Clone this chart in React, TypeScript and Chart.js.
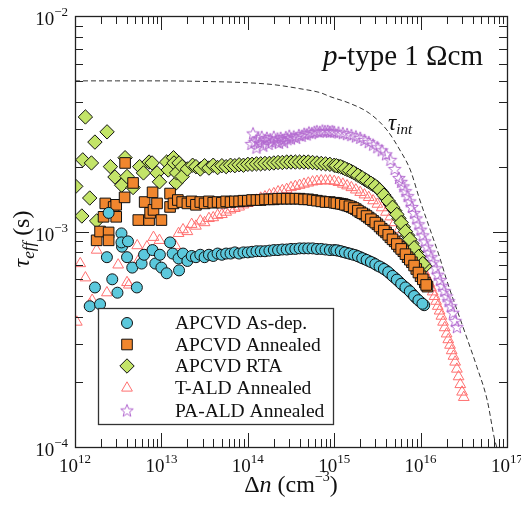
import React, { useEffect, useRef } from 'react';
import { Chart, registerables } from 'chart.js';
import { drawPoint } from 'chart.js/helpers';

Chart.register(...registerables);

// ---------- axis ticks ----------
const xTickValues = [1e12, 1e13, 1e14, 1e15, 1e16, 1e17];
const xTickExponents = ['12', '13', '14', '15', '16', '17'];
const yTickValues = [1e-4, 1e-3, 1e-2];
const yTickExponents = ['−4', '−3', '−2'];

const seriesNames = ['APCVD As-dep.', 'APCVD Annealed', 'APCVD RTA', 'T-ALD Annealed', 'PA-ALD Annealed'];

// ---------- data: [Δn (cm^-3), τ_eff (s)] ----------
const asDep: [number, number][] = [
  [1.48e12, 4.5e-4], [1.7e12, 5.5e-4], [1.95e12, 4.6e-4], [2.34e12, 7.6e-4], [2.45e12, 1.22e-3],
  [2.7e12, 6.0e-4], [3.1e12, 5.2e-4], [3.45e12, 9.8e-4], [3.5e12, 8.5e-4], [3.45e12, 8.9e-4],
  [4.0e12, 7.6e-4], [4.1e12, 9.0e-4], [4.6e12, 6.8e-4], [5.2e12, 5.5e-4], [5.9e12, 7.1e-4],
  [6.3e12, 7.8e-4], [7.9e12, 8.2e-4], [8.5e12, 7.1e-4], [9.6e12, 7.8e-4], [1.0e13, 6.8e-4],
  [1.15e13, 6.4e-4], [1.26e13, 8.9e-4], [1.35e13, 7.9e-4], [1.6e13, 6.6e-4],
  [1.58e13, 7.5e-4], [1.78e13, 7.9e-4], [2.0e13, 7.3e-4], [2.24e13, 7.7e-4], [2.51e13, 7.6e-4],
  [2.82e13, 7.8e-4], [3.16e13, 7.6e-4], [3.55e13, 7.8e-4], [3.98e13, 7.7e-4], [4.47e13, 7.9e-4],
  [5.01e13, 7.8e-4], [5.62e13, 7.9e-4], [6.31e13, 7.9e-4], [7.08e13, 8.0e-4], [7.94e13, 7.9e-4],
  [8.91e13, 8.0e-4], [1.0e14, 8.0e-4], [1.12e14, 8.05e-4], [1.26e14, 8.1e-4], [1.41e14, 8.1e-4],
  [1.58e14, 8.1e-4], [1.78e14, 8.15e-4], [2.0e14, 8.2e-4], [2.24e14, 8.2e-4], [2.51e14, 8.25e-4],
  [2.82e14, 8.25e-4], [3.16e14, 8.3e-4], [3.55e14, 8.3e-4], [3.98e14, 8.35e-4], [4.47e14, 8.35e-4],
  [5.01e14, 8.35e-4], [5.62e14, 8.35e-4], [6.31e14, 8.3e-4], [7.08e14, 8.3e-4], [7.94e14, 8.25e-4],
  [8.91e14, 8.2e-4], [1.0e15, 8.2e-4], [1.12e15, 8.15e-4], [1.26e15, 8.05e-4], [1.41e15, 7.95e-4],
  [1.58e15, 7.85e-4], [1.78e15, 7.75e-4], [2.0e15, 7.6e-4], [2.24e15, 7.45e-4], [2.51e15, 7.3e-4],
  [2.82e15, 7.15e-4], [3.16e15, 6.95e-4], [3.55e15, 6.8e-4], [3.98e15, 6.6e-4], [4.47e15, 6.35e-4],
  [5.01e15, 6.1e-4], [5.62e15, 5.85e-4], [6.31e15, 5.6e-4], [7.08e15, 5.4e-4], [7.94e15, 5.15e-4],
  [8.91e15, 4.9e-4], [1.0e16, 4.7e-4], [1.1e16, 4.55e-4],
  [1.06e15, 8.18e-4], [1.19e15, 8.1e-4], [1.33e15, 8.0e-4], [1.5e15, 7.9e-4], [1.68e15, 7.8e-4],
  [1.88e15, 7.68e-4], [2.11e15, 7.52e-4], [2.37e15, 7.38e-4], [2.66e15, 7.22e-4], [2.99e15, 7.05e-4],
  [3.35e15, 6.88e-4], [3.76e15, 6.7e-4], [4.22e15, 6.48e-4], [4.73e15, 6.22e-4], [5.31e15, 5.98e-4],
  [5.96e15, 5.72e-4], [6.68e15, 5.5e-4], [7.5e15, 5.28e-4], [8.41e15, 5.02e-4], [9.44e15, 4.8e-4],
  [1.05e16, 4.62e-4],
];

const annealed: [number, number][] = [
  [1.78e12, 9.1e-4], [1.95e12, 1.0e-3], [2.14e12, 1.17e-3], [2.24e12, 1.35e-3], [2.45e12, 9.9e-4],
  [2.45e12, 9.1e-4], [2.8e12, 1.3e-3], [3.0e12, 1.33e-3], [3.0e12, 1.17e-3], [3.75e12, 1.44e-3],
  [3.8e12, 2.08e-3], [4.7e12, 1.68e-3], [5.4e12, 1.13e-3], [6.4e12, 1.37e-3], [7.2e12, 1.13e-3],
  [7.4e12, 1.22e-3], [8.1e12, 1.26e-3], [7.9e12, 1.52e-3], [8.9e12, 1.35e-3], [1.0e13, 1.13e-3],
  [1.26e13, 1.5e-3], [1.26e13, 1.3e-3], [1.38e13, 1.35e-3], [1.55e13, 1.4e-3], [1.74e13, 1.37e-3],
  [2.0e13, 1.35e-3], [2.24e13, 1.38e-3], [2.51e13, 1.33e-3], [2.82e13, 1.37e-3], [3.16e13, 1.35e-3],
  [3.55e13, 1.38e-3], [3.98e13, 1.36e-3], [4.47e13, 1.37e-3], [5.01e13, 1.36e-3], [5.62e13, 1.38e-3],
  [6.31e13, 1.37e-3], [7.08e13, 1.38e-3], [7.94e13, 1.38e-3], [8.91e13, 1.39e-3], [1.0e14, 1.39e-3],
  [1.12e14, 1.4e-3], [1.26e14, 1.4e-3], [1.41e14, 1.4e-3], [1.58e14, 1.41e-3], [1.78e14, 1.41e-3],
  [2.0e14, 1.41e-3], [2.24e14, 1.42e-3], [2.51e14, 1.42e-3], [2.82e14, 1.42e-3], [3.16e14, 1.42e-3],
  [3.55e14, 1.42e-3], [3.98e14, 1.42e-3], [4.47e14, 1.41e-3], [5.01e14, 1.41e-3], [5.62e14, 1.4e-3],
  [6.31e14, 1.39e-3], [7.08e14, 1.38e-3], [7.94e14, 1.37e-3], [8.91e14, 1.37e-3], [1.0e15, 1.36e-3],
  [1.12e15, 1.35e-3], [1.26e15, 1.34e-3], [1.41e15, 1.32e-3], [1.58e15, 1.3e-3], [1.78e15, 1.27e-3],
  [2.0e15, 1.23e-3], [2.24e15, 1.2e-3], [2.51e15, 1.16e-3], [2.82e15, 1.12e-3], [3.16e15, 1.08e-3],
  [3.55e15, 1.03e-3], [3.98e15, 9.9e-4], [4.47e15, 9.4e-4], [5.01e15, 9.0e-4], [5.62e15, 8.5e-4],
  [6.31e15, 8.1e-4], [7.08e15, 7.6e-4], [7.94e15, 7.2e-4], [8.91e15, 6.7e-4], [1.0e16, 6.2e-4],
  [1.12e16, 5.8e-4], [1.2e16, 5.55e-4],
  [1.06e15, 1.355e-3], [1.19e15, 1.345e-3], [1.33e15, 1.33e-3], [1.5e15, 1.31e-3], [1.68e15, 1.285e-3],
  [1.88e15, 1.25e-3], [2.11e15, 1.215e-3], [2.37e15, 1.18e-3], [2.66e15, 1.14e-3], [2.99e15, 1.1e-3],
  [3.35e15, 1.055e-3], [3.76e15, 1.01e-3], [4.22e15, 9.65e-4], [4.73e15, 9.2e-4], [5.31e15, 8.75e-4],
  [5.96e15, 8.3e-4], [6.68e15, 7.85e-4], [7.5e15, 7.4e-4], [8.41e15, 6.95e-4], [9.44e15, 6.45e-4],
  [1.06e16, 6.0e-4], [1.16e16, 5.65e-4],
];

const rta: [number, number][] = [
  [1.02e12, 1.62e-3], [1.2e12, 1.18e-3], [1.23e12, 2.15e-3], [1.32e12, 3.4e-3], [1.48e12, 1.43e-3],
  [1.55e12, 2.08e-3], [1.7e12, 2.6e-3], [1.78e12, 1.12e-3], [2.35e12, 2.9e-3], [2.57e12, 2.0e-3],
  [2.9e12, 1.79e-3], [3.47e12, 1.64e-3], [3.8e12, 2.2e-3], [4.0e12, 1.8e-3], [4.7e12, 1.6e-3],
  [5.6e12, 2.0e-3], [6.2e12, 1.87e-3], [7.2e12, 2.1e-3], [7.8e12, 2.08e-3], [8.9e12, 1.87e-3],
  [9.5e12, 1.7e-3], [1.15e13, 2.1e-3], [1.2e13, 1.93e-3], [1.38e13, 2.2e-3], [1.4e13, 2.08e-3],
  [1.48e13, 1.68e-3], [1.5e13, 1.87e-3], [1.6e13, 2.08e-3], [1.74e13, 2.0e-3], [1.74e13, 1.8e-3],
  [2.0e13, 1.95e-3], [2.3e13, 2.03e-3],
  [2.51e13, 2.0e-3], [2.82e13, 1.95e-3], [3.16e13, 2.02e-3], [3.55e13, 1.97e-3], [3.98e13, 2.03e-3],
  [4.47e13, 1.98e-3], [5.01e13, 2.02e-3], [5.62e13, 2.0e-3], [6.31e13, 2.03e-3], [7.08e13, 2.02e-3],
  [7.94e13, 2.04e-3], [8.91e13, 2.03e-3], [1.0e14, 2.05e-3], [1.12e14, 2.05e-3], [1.26e14, 2.06e-3],
  [1.41e14, 2.06e-3], [1.58e14, 2.07e-3], [1.78e14, 2.07e-3], [2.0e14, 2.08e-3], [2.24e14, 2.09e-3],
  [2.51e14, 2.09e-3], [2.82e14, 2.1e-3], [3.16e14, 2.1e-3], [3.55e14, 2.1e-3], [3.98e14, 2.1e-3],
  [4.47e14, 2.1e-3], [5.01e14, 2.1e-3], [5.62e14, 2.09e-3], [6.31e14, 2.08e-3], [7.08e14, 2.07e-3],
  [7.94e14, 2.06e-3], [8.91e14, 2.05e-3], [1.0e15, 2.03e-3], [1.12e15, 2.01e-3], [1.26e15, 1.98e-3],
  [1.41e15, 1.94e-3], [1.58e15, 1.9e-3], [1.78e15, 1.85e-3], [2.0e15, 1.8e-3], [2.24e15, 1.75e-3],
  [2.51e15, 1.7e-3], [2.82e15, 1.65e-3], [3.16e15, 1.6e-3], [3.55e15, 1.52e-3], [3.98e15, 1.43e-3],
  [4.47e15, 1.34e-3], [5.01e15, 1.25e-3], [5.62e15, 1.15e-3], [6.31e15, 1.05e-3], [7.08e15, 9.6e-4],
  [7.94e15, 8.8e-4], [8.91e15, 8.0e-4], [1.0e16, 7.3e-4], [1.12e16, 6.9e-4],
  [1.06e15, 2.02e-3], [1.19e15, 2.0e-3], [1.33e15, 1.96e-3], [1.5e15, 1.92e-3], [1.68e15, 1.875e-3],
  [1.88e15, 1.825e-3], [2.11e15, 1.775e-3], [2.37e15, 1.725e-3], [2.66e15, 1.675e-3], [2.99e15, 1.625e-3],
  [3.35e15, 1.56e-3], [3.76e15, 1.475e-3], [4.22e15, 1.385e-3], [4.73e15, 1.295e-3], [5.31e15, 1.2e-3],
  [5.96e15, 1.1e-3], [6.68e15, 1.0e-3], [7.5e15, 9.2e-4], [8.41e15, 8.4e-4], [9.44e15, 7.65e-4],
  [1.06e16, 7.1e-4],
];

const tald: [number, number][] = [
  [1.05e12, 3.8e-4], [1.15e12, 7.1e-4], [1.32e12, 6.1e-4], [1.48e12, 4.6e-4], [1.58e12, 4.8e-4],
  [1.78e12, 8.2e-4], [2.34e12, 5.2e-4], [3.16e12, 7.0e-4], [4.0e12, 5.8e-4], [4.2e12, 5.65e-4],
  [5.25e12, 8.6e-4], [5.5e12, 7.4e-4], [6.8e12, 8.5e-4], [8.1e12, 9.4e-4], [9.5e12, 9.1e-4],
  [1.45e13, 8.6e-4], [1.58e13, 9.8e-4],
  [1.78e13, 1.02e-3], [2.0e13, 1.0e-3], [2.24e13, 1.08e-3], [2.51e13, 1.06e-3], [2.82e13, 1.12e-3],
  [3.16e13, 1.1e-3], [3.55e13, 1.15e-3], [3.98e13, 1.16e-3], [4.47e13, 1.19e-3], [5.01e13, 1.2e-3],
  [5.62e13, 1.23e-3], [6.31e13, 1.26e-3], [7.08e13, 1.28e-3], [7.94e13, 1.3e-3], [8.91e13, 1.33e-3],
  [1.0e14, 1.35e-3], [1.12e14, 1.38e-3], [1.26e14, 1.4e-3], [1.41e14, 1.43e-3], [1.58e14, 1.45e-3],
  [1.78e14, 1.48e-3], [2.0e14, 1.5e-3], [2.24e14, 1.53e-3], [2.51e14, 1.55e-3], [2.82e14, 1.57e-3],
  [3.16e14, 1.6e-3], [3.55e14, 1.62e-3], [3.98e14, 1.64e-3], [4.47e14, 1.66e-3], [5.01e14, 1.68e-3],
  [5.62e14, 1.7e-3], [6.31e14, 1.71e-3], [7.08e14, 1.72e-3], [7.94e14, 1.72e-3], [8.91e14, 1.72e-3],
  [1.0e15, 1.71e-3], [1.12e15, 1.69e-3], [1.26e15, 1.66e-3], [1.41e15, 1.63e-3], [1.58e15, 1.6e-3],
  [1.78e15, 1.56e-3], [2.0e15, 1.52e-3], [2.24e15, 1.48e-3], [2.51e15, 1.44e-3], [2.82e15, 1.39e-3],
  [3.16e15, 1.34e-3], [3.55e15, 1.29e-3], [3.98e15, 1.23e-3], [4.47e15, 1.17e-3], [5.01e15, 1.1e-3],
  [5.62e15, 1.02e-3], [6.31e15, 9.4e-4], [7.08e15, 8.9e-4], [7.94e15, 8.3e-4], [8.91e15, 7.7e-4],
  [1.0e16, 7.0e-4], [1.05e16, 6.75e-4], [1.1e16, 6.5e-4], [1.15e16, 6.25e-4], [1.2e16, 6.0e-4],
  [1.26e16, 5.75e-4], [1.32e16, 5.5e-4], [1.38e16, 5.25e-4], [1.45e16, 5.0e-4], [1.51e16, 4.75e-4],
  [1.58e16, 4.5e-4], [1.66e16, 4.28e-4], [1.74e16, 4.05e-4], [1.82e16, 3.8e-4], [1.9e16, 3.58e-4],
  [2.0e16, 3.35e-4], [2.09e16, 3.15e-4], [2.19e16, 2.97e-4], [2.29e16, 2.8e-4], [2.4e16, 2.64e-4],
  [2.51e16, 2.48e-4], [2.63e16, 2.3e-4], [2.75e16, 2.12e-4], [2.88e16, 1.95e-4], [3.02e16, 1.8e-4],
  [3.16e16, 1.7e-4],
];

const paald: [number, number][] = [
  [1.1e14, 2.55e-3], [1.15e14, 2.85e-3], [1.2e14, 2.6e-3], [1.26e14, 2.45e-3], [1.32e14, 2.7e-3],
  [1.38e14, 2.58e-3], [1.45e14, 2.75e-3], [1.51e14, 2.5e-3], [1.58e14, 2.65e-3], [1.66e14, 2.72e-3],
  [1.74e14, 2.55e-3], [1.82e14, 2.68e-3], [1.9e14, 2.6e-3], [2.0e14, 2.75e-3], [2.1e14, 2.62e-3],
  [2.2e14, 2.7e-3], [2.3e14, 2.58e-3], [2.4e14, 2.72e-3], [2.51e14, 2.66e-3], [2.63e14, 2.6e-3],
  [2.75e14, 2.74e-3], [2.88e14, 2.68e-3], [3.02e14, 2.78e-3], [3.16e14, 2.7e-3], [3.4e14, 2.76e-3],
  [3.63e14, 2.72e-3], [3.9e14, 2.8e-3], [4.2e14, 2.78e-3], [4.5e14, 2.84e-3], [4.8e14, 2.82e-3],
  [5.1e14, 2.88e-3], [5.5e14, 2.86e-3], [5.9e14, 2.9e-3], [6.3e14, 2.92e-3], [6.8e14, 2.9e-3],
  [7.3e14, 2.94e-3], [7.8e14, 2.92e-3], [8.4e14, 2.93e-3], [8.9e14, 2.9e-3], [9.5e14, 2.92e-3],
  [1.0e15, 2.9e-3], [1.12e15, 2.88e-3], [1.26e15, 2.86e-3], [1.41e15, 2.83e-3], [1.58e15, 2.8e-3],
  [1.78e15, 2.76e-3], [2.0e15, 2.72e-3], [2.24e15, 2.66e-3], [2.51e15, 2.6e-3], [2.82e15, 2.53e-3],
  [3.16e15, 2.46e-3], [3.55e15, 2.38e-3], [3.98e15, 2.28e-3], [4.47e15, 2.15e-3], [5.01e15, 1.95e-3],
  [5.62e15, 1.77e-3], [5.96e15, 1.7e-3], [6.31e15, 1.62e-3], [6.68e15, 1.54e-3], [7.08e15, 1.46e-3],
  [7.5e15, 1.38e-3], [7.94e15, 1.3e-3], [8.41e15, 1.22e-3], [8.91e15, 1.15e-3], [9.44e15, 1.08e-3],
  [1.0e16, 1.02e-3], [1.06e16, 9.6e-4], [1.12e16, 9.0e-4], [1.19e16, 8.5e-4], [1.26e16, 8.0e-4],
  [1.33e16, 7.6e-4], [1.41e16, 7.2e-4], [1.5e16, 6.75e-4], [1.58e16, 6.3e-4], [1.68e16, 5.95e-4],
  [1.78e16, 5.6e-4], [1.88e16, 5.3e-4], [2.0e16, 5.0e-4], [2.11e16, 4.75e-4], [2.24e16, 4.5e-4],
  [2.37e16, 4.2e-4], [2.51e16, 3.85e-4], [2.63e16, 3.6e-4],
];

const tauInt: [number, number][] = [
  [1e12, 5.0e-3], [3e12, 5.0e-3], [1e13, 5.0e-3], [3e13, 4.97e-3], [1e14, 4.9e-3], [2e14, 4.8e-3],
  [4e14, 4.6e-3], [7e14, 4.4e-3], [8.9e14, 4.23e-3], [1.5e15, 3.94e-3], [2.57e15, 3.53e-3],
  [4.07e15, 2.96e-3], [5.75e15, 2.39e-3], [7.6e15, 1.93e-3], [9.8e15, 1.4e-3], [1.29e16, 1.02e-3],
  [1.66e16, 7.6e-4], [2.0e16, 5.96e-4], [3.1e16, 3.6e-4], [4.47e16, 2.36e-4], [5.9e16, 1.65e-4],
  [7.2e16, 1.08e-4], [7.6e16, 1.0e-4],
];

// ---------- styles ----------
const SERIF = '"Liberation Serif", "Times New Roman", serif';
const CYAN = '#5BC8DC';
const ORANGE = '#F0862E';
const GREEN = '#C3E468';
const PINK = '#FF7070';
const PURPLE = '#B36AD0';
const EDGE = '#111111';

function makeStar(color: string, R: number, r: number): HTMLCanvasElement {
  const size = Math.ceil(2 * R + 4);
  const c = document.createElement('canvas');
  c.width = size;
  c.height = size;
  const g = c.getContext('2d')!;
  g.strokeStyle = color;
  g.lineWidth = 1;
  g.beginPath();
  for (let i = 0; i < 10; i++) {
    const a = -Math.PI / 2 + (i * Math.PI) / 5;
    const rr = i % 2 === 0 ? R : r;
    const px = size / 2 + rr * Math.cos(a);
    const py = size / 2 + 0.5 + rr * Math.sin(a);
    if (i === 0) g.moveTo(px, py);
    else g.lineTo(px, py);
  }
  g.closePath();
  g.stroke();
  return c;
}

type Run = { t: string; f: string; dy?: number };
function drawRuns(ctx: CanvasRenderingContext2D, runs: Run[], x: number, y: number, align: 'left' | 'center' | 'right') {
  let total = 0;
  for (const r of runs) {
    ctx.font = r.f;
    total += ctx.measureText(r.t).width;
  }
  let cx = align === 'left' ? x : align === 'center' ? x - total / 2 : x - total;
  ctx.textAlign = 'left';
  ctx.textBaseline = 'alphabetic';
  for (const r of runs) {
    ctx.font = r.f;
    ctx.fillText(r.t, cx, y + (r.dy || 0));
    cx += ctx.measureText(r.t).width;
  }
}

export default function App() {
  const ref = useRef<HTMLCanvasElement | null>(null);

  useEffect(() => {
    if (!ref.current) return;
    const star = makeStar(PURPLE, 6.6, 2.8);

    const markers = [
      { pointStyle: 'circle', radius: 5.5, fill: CYAN, stroke: EDGE },
      { pointStyle: 'rect', radius: 7.5, fill: ORANGE, stroke: EDGE },
      { pointStyle: 'rectRot', radius: 7.2, fill: GREEN, stroke: EDGE },
      { pointStyle: 'triangle', radius: 6.2, fill: 'rgba(0,0,0,0)', stroke: PINK },
      { pointStyle: star as any, radius: 6.6, fill: 'rgba(0,0,0,0)', stroke: PURPLE },
    ];
    const sets = [asDep, annealed, rta, tald, paald];
    const orders = [1, 2, 3, 4, 5];

    const datasets: any[] = sets.map((s, i) => ({
      label: seriesNames[i],
      data: s.map(([x, y]) => ({ x, y })),
      showLine: false,
      pointStyle: markers[i].pointStyle,
      pointRadius: markers[i].radius,
      pointBackgroundColor: markers[i].fill,
      pointBorderColor: markers[i].stroke,
      pointBorderWidth: 1,
      order: orders[i],
    }));
    datasets.push({
      label: 'τint',
      data: tauInt.map(([x, y]) => ({ x, y })),
      showLine: true,
      pointRadius: 0,
      borderColor: '#333333',
      borderWidth: 1,
      borderDash: [5, 3],
      cubicInterpolationMode: 'monotone',
      fill: false,
      order: 10,
    });

    const frameTicks = {
      id: 'frameTicks',
      afterDatasetsDraw(chart: any) {
        const { ctx, chartArea: a, scales } = chart;
        const xs = scales.x;
        const ys = scales.y;
        ctx.save();
        ctx.strokeStyle = '#222';
        ctx.lineWidth = 1;
        ctx.beginPath();
        for (let e = 12; e <= 17; e++) {
          for (let m = 1; m <= 9; m++) {
            const v = m * Math.pow(10, e);
            if (v > 1.0001e17) break;
            const px = Math.round(xs.getPixelForValue(v)) + 0.5;
            const L = m === 1 ? 14 : 8;
            ctx.moveTo(px, a.bottom);
            ctx.lineTo(px, a.bottom - L);
            ctx.moveTo(px, a.top);
            ctx.lineTo(px, a.top + L);
          }
        }
        for (let e = -4; e <= -2; e++) {
          for (let m = 1; m <= 9; m++) {
            const v = m * Math.pow(10, e);
            if (v > 1.0001e-2) break;
            const py = Math.round(ys.getPixelForValue(v)) + 0.5;
            const L = m === 1 ? 14 : 8;
            ctx.moveTo(a.left, py);
            ctx.lineTo(a.left + L, py);
            ctx.moveTo(a.right, py);
            ctx.lineTo(a.right - L, py);
          }
        }
        ctx.stroke();
        ctx.lineWidth = 1.3;
        ctx.strokeRect(a.left + 0.5, a.top + 0.5, a.right - a.left, a.bottom - a.top);
        ctx.restore();
      },
      afterDraw(chart: any) {
        const ctx: CanvasRenderingContext2D = chart.ctx;
        const xs = chart.scales.x;
        const ys = chart.scales.y;
        ctx.save();
        ctx.fillStyle = '#111';

        // tick labels (10 with superscript exponent)
        xTickValues.forEach((v, i) => {
          const px = xs.getPixelForValue(v);
          drawRuns(ctx, [
            { t: '10', f: `19px ${SERIF}` },
            { t: xTickExponents[i], f: `13px ${SERIF}`, dy: -9 },
          ], px, 472, 'center');
        });
        yTickValues.forEach((v, i) => {
          const py = ys.getPixelForValue(v);
          drawRuns(ctx, [
            { t: '10', f: `19px ${SERIF}` },
            { t: yTickExponents[i], f: `13px ${SERIF}`, dy: -9 },
          ], 68, py + 9, 'right');
        });

        // y title
        ctx.save();
        ctx.translate(29, 239);
        ctx.rotate(-Math.PI / 2);
        drawRuns(ctx, [
          { t: 'τ', f: `italic 24px ${SERIF}` },
          { t: 'eff', f: `italic 17px ${SERIF}`, dy: 5 },
          { t: ' (s)', f: `24px ${SERIF}` },
        ], 0, 0, 'center');
        ctx.restore();
        // x title
        drawRuns(ctx, [
          { t: 'Δ', f: `24px ${SERIF}` },
          { t: 'n', f: `italic 24px ${SERIF}` },
          { t: ' (cm', f: `24px ${SERIF}` },
          { t: '−3', f: `14px ${SERIF}`, dy: -11 },
          { t: ')', f: `24px ${SERIF}` },
        ], 291, 492, 'center');
        // annotation
        drawRuns(ctx, [
          { t: 'p', f: `italic 29px ${SERIF}` },
          { t: '-type 1 Ωcm', f: `29px ${SERIF}` },
        ], 483, 65, 'right');
        drawRuns(ctx, [
          { t: 'τ', f: `italic 23px ${SERIF}` },
          { t: 'int', f: `italic 15px ${SERIF}`, dy: 4 },
        ], 388, 130, 'left');

        // legend
        const bx = 98.5, by = 308.5, bw = 235, bh = 116;
        ctx.fillStyle = '#ffffff';
        ctx.fillRect(bx, by, bw, bh);
        ctx.strokeStyle = '#333';
        ctx.lineWidth = 1.3;
        ctx.strokeRect(bx, by, bw, bh);
        const rows = [323, 344.5, 366, 388, 410.5];
        for (let i = 0; i < 5; i++) {
          const mk = markers[i];
          ctx.fillStyle = mk.fill;
          ctx.strokeStyle = mk.stroke;
          ctx.lineWidth = 1;
          drawPoint(ctx, { pointStyle: mk.pointStyle, radius: mk.radius, rotation: 0, borderWidth: 1 } as any, 127, rows[i]);
          ctx.fillStyle = '#111';
          ctx.font = `19.5px ${SERIF}`;
          ctx.textAlign = 'left';
          ctx.textBaseline = 'middle';
          ctx.fillText(seriesNames[i], 175, rows[i] + 1);
        }
        ctx.restore();
      },
    };

    const chart = new Chart(ref.current, {
      type: 'scatter',
      data: { datasets },
      options: {
        responsive: true,
        maintainAspectRatio: false,
        animation: false,
        events: [],
        layout: { padding: { top: 16, right: 14, left: 0, bottom: 0 } },
        plugins: { legend: { display: false }, tooltip: { enabled: false } },
        scales: {
          x: {
            type: 'logarithmic',
            position: 'bottom',
            min: 1e12,
            max: 1e17,
            grid: { display: false },
            border: { display: false },
            ticks: { display: false },
            afterBuildTicks: (s: any) => {
              s.ticks = xTickValues.map((v) => ({ value: v }));
            },
            afterFit: (s: any) => {
              s.height = 65;
              s.paddingLeft = 0;
              s.paddingRight = 0;
            },
          },
          y: {
            type: 'logarithmic',
            min: 1e-4,
            max: 1e-2,
            grid: { display: false },
            border: { display: false },
            ticks: { display: false },
            afterBuildTicks: (s: any) => {
              s.ticks = yTickValues.map((v) => ({ value: v }));
            },
            afterFit: (s: any) => {
              s.width = 75;
              s.paddingTop = 0;
              s.paddingBottom = 0;
            },
          },
        },
      },
      plugins: [frameTicks],
    } as any);

    return () => chart.destroy();
  }, []);

  return (
    <div style={{ position: 'fixed', left: 0, top: 0, width: 521, height: 512, background: '#ffffff' }}>
      <canvas ref={ref} />
    </div>
  );
}
